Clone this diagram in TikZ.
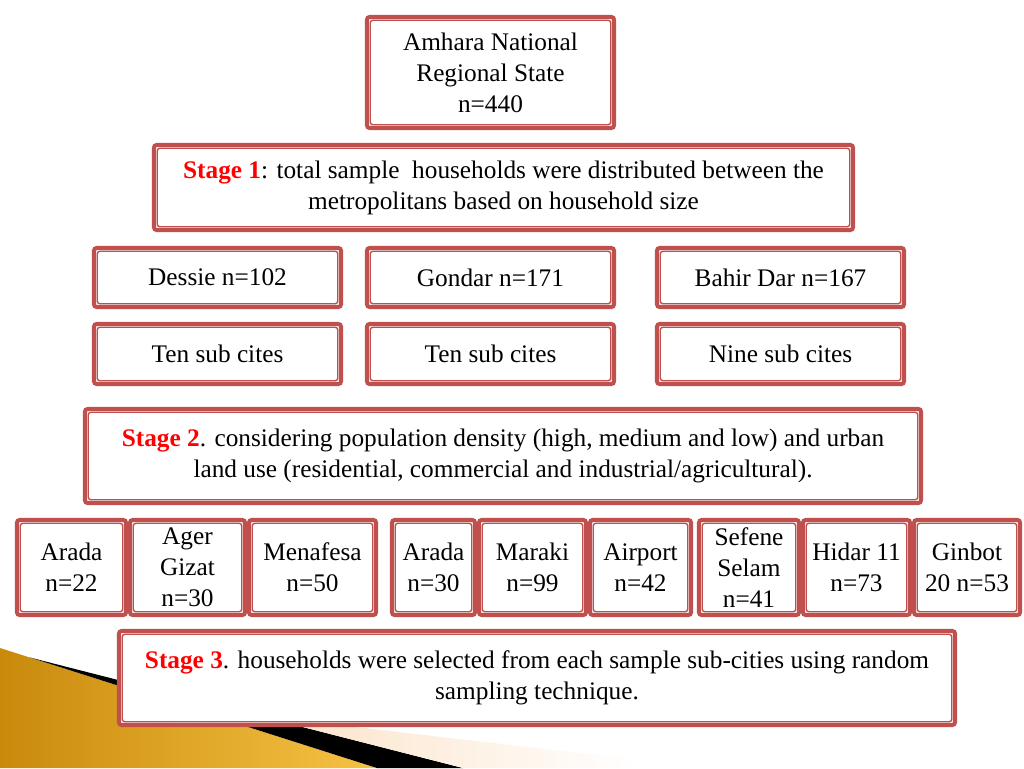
\documentclass[tikz,border=0pt]{standalone}
\usepackage{fontspec}
\setmainfont{Liberation Serif}
\usepackage{tikz}
\definecolor{boxred}{HTML}{C0504D}
\definecolor{stagered}{HTML}{FF0000}
\definecolor{golddark}{HTML}{C98A0C}
\definecolor{goldlight}{HTML}{F6C244}
\definecolor{peach}{HTML}{FBE2C6}
\newcommand{\stg}[1]{\textbf{\color{stagered}#1}}

\begin{document}
\begin{tikzpicture}[x=0.02cm,y=-0.02cm,
  every node/.style={font=\fontsize{14.4}{17.6}\selectfont},
  box/.style={draw=boxred,line width=2.3pt,rounded corners=1.5pt,fill=white,
    inner sep=0pt,align=center,
    path picture={\draw[boxred,line width=0.8pt]
      ([shift={(0.065cm,0.065cm)}]path picture bounding box.south west) rectangle
      ([shift={(-0.065cm,-0.065cm)}]path picture bounding box.north east);}},
  bw/.style={minimum width={#1*0.02cm-0.08cm}},
  bh/.style={minimum height={#1*0.02cm-0.08cm}}]
\useasboundingbox[fill=white] (0,0) rectangle (1024,768);
% background wedge
\shade[left color=golddark,right color=goldlight] (0,648) -- (377,768) -- (0,768) -- cycle;
\fill[black] (30,657.5) -- (463,768) -- (377,768) -- cycle;
\shade[left color=peach,right color=white] (260,716) -- (640,760) -- (640,768) -- (463,768) -- cycle;

\path (490.5,72.5) node (amhara) [box,bw=251,bh=115] {Amhara National\\Regional State\\n=440};
\path (503.5,187.5) node (stage1) [box,bw=703,bh=89] {\stg{Stage 1}: total sample\ \ households were distributed between the\\metropolitans based on household size};

\path (217.5,277.5) node (dessie) [box,bw=251,bh=63] {Dessie n=102};
\path (490.5,277.5) node (gondar) [box,bw=251,bh=63] {Gondar n=171};
\path (780.5,277.5) node (bahirdar) [box,bw=251,bh=63] {Bahir Dar n=167};

\path (217.5,354) node (dessiesub) [box,bw=251,bh=64] {Ten sub cites};
\path (490.5,354) node (gondarsub) [box,bw=251,bh=64] {Ten sub cites};
\path (780.5,354) node (bahirdarsub) [box,bw=251,bh=64] {Nine sub cites};

\path (503,456) node (stage2) [box,bw=840,bh=98] {\stg{Stage 2}. considering population density (high, medium and low) and urban\\land use (residential, commercial and industrial/agricultural).};

\path (71.5,567.5) node (arada1) [box,bw=113,bh=99] {Arada\\n=22};
\path (187.5,567.5) node (ager) [box,bw=119,bh=99] {Ager\\Gizat\\n=30};
\path (312.5,567.5) node (menafesa) [box,bw=131,bh=99] {Menafesa\\n=50};
\path (433.5,567.5) node (arada2) [box,bw=87,bh=99] {Arada\\n=30};
\path (532.5,567.5) node (maraki) [box,bw=111,bh=99] {Maraki\\n=99};
\path (640.5,567.5) node (airport) [box,bw=105,bh=99] {Airport\\n=42};
\path (749,567.5) node (sefene) [box,bw=104,bh=99] {Sefene\\Selam\\n=41};
\path (856.5,567.5) node (hidar) [box,bw=111,bh=99] {Hidar 11\\n=73};
\path (967,567.5) node (ginbot) [box,bw=110,bh=99] {Ginbot\\20 n=53};

\path (537,678) node (stage3) [box,bw=840,bh=98] {\stg{Stage 3}. households were selected from each sample sub-cities using random\\sampling technique.};
\end{tikzpicture}
\end{document}
